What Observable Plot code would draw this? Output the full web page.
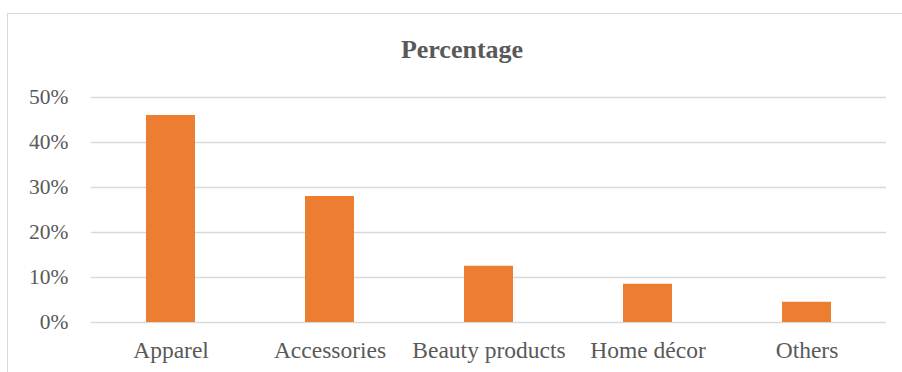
<!DOCTYPE html>
<html>
<head>
<meta charset="utf-8">
<script src="https://cdn.jsdelivr.net/npm/d3@7"></script>
<script src="https://cdn.jsdelivr.net/npm/@observablehq/plot@0.6"></script>
<style>
  html, body { margin: 0; padding: 0; background: #fff; }
  #wrap { position: relative; width: 902px; height: 372px; overflow: hidden; }
  #frame { position: absolute; left: 7px; top: 13px; width: 910px; height: 420px; border: 1px solid #D9D9D9; box-sizing: border-box; }
  #title { position: absolute; left: 7px; width: 910px; top: 35px; text-align: center;
           font-family: "Liberation Serif", "Times New Roman", serif; font-weight: bold; font-size: 26px; color: #595959; line-height: 30px; }
  #chart { position: absolute; left: 0; top: 0; }
</style>
</head>
<body>
<div id="wrap">
  <div id="frame"></div>
  <div id="title">Percentage</div>
  <div id="chart"></div>
</div>
<script>
const categories = ["Apparel", "Accessories", "Beauty products", "Home décor", "Others"];
const percentages = [46, 28, 12.5, 8.5, 4.5];
const yTicks = [0, 10, 20, 30, 40, 50];

const data = categories.map((c, i) => ({category: c, value: percentages[i]}));

const chart = Plot.plot({
  width: 902,
  height: 372,
  marginLeft: 91,
  marginRight: 16,
  marginTop: 97,
  marginBottom: 50,
  style: {fontFamily: '"Liberation Serif", "Times New Roman", serif', color: "#595959", background: "transparent"},
  x: {domain: categories, paddingInner: 0.69, paddingOuter: 0.345, axis: null},
  y: {domain: [0, 50], axis: null},
  marks: [
    Plot.ruleY(yTicks, {stroke: "#D9D9D9", strokeWidth: 1.3}),
    Plot.barY(data, {x: "category", y: "value", fill: "#ED7D31"}),
    Plot.axisY(yTicks, {tickSize: 0, tickPadding: 23, fontSize: 21.5, fill: "#595959", tickFormat: d => d + "%", label: null}),
    Plot.axisX({tickSize: 0, tickPadding: 19, fontSize: 23.5, fill: "#595959", label: null})
  ]
});
document.getElementById("chart").appendChild(chart);
</script>
</body>
</html>
